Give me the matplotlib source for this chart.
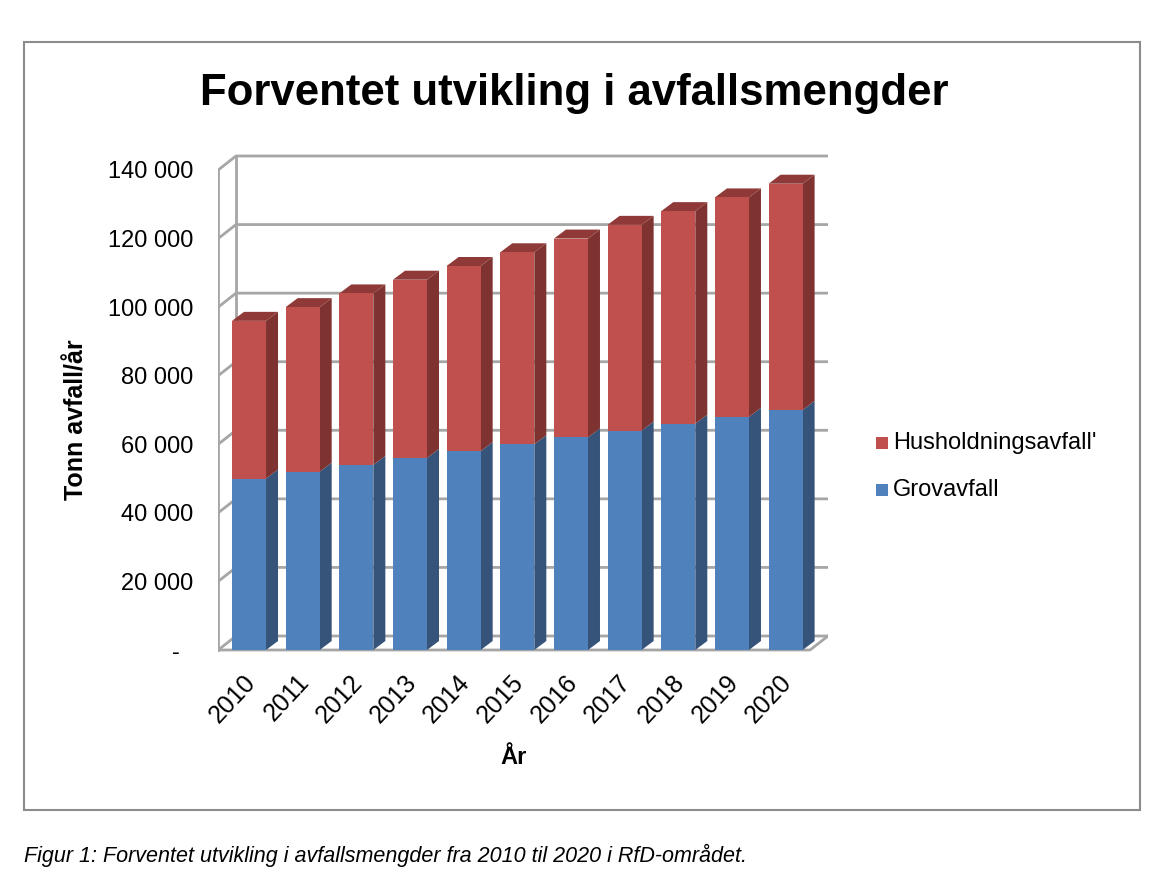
import matplotlib
matplotlib.use("Agg")
import matplotlib.pyplot as plt
from matplotlib.patches import Polygon, Rectangle
import numpy as np

plt.rcParams['font.family'] = ['Liberation Sans', 'DejaVu Sans']

years = ['2010', '2011', '2012', '2013', '2014', '2015', '2016', '2017', '2018', '2019', '2020']
grovavfall = [50000, 52000, 54000, 56000, 58000, 60000, 62000, 64000, 66000, 68000, 70000]
husholdning = [46000, 48000, 50000, 52000, 54000, 56000, 58000, 60000, 62000, 64000, 66000]
yticks = [0, 20000, 40000, 60000, 80000, 100000, 120000, 140000]
ytick_labels = ['-  ', '20 000', '40 000', '60 000', '80 000', '100 000', '120 000', '140 000']

blue = '#4F81BD'
blue_side = '#36537A'
red = '#C0504D'
red_side = '#7F3331'
red_top = '#8F3A38'
grid_c = '#A6A6A6'

fig = plt.figure(figsize=(11.52, 8.76), dpi=100)
W, H = 1152, 876

# outer chart frame
fig.patches.append(Rectangle((24 / W, 1 - 810 / H), (1140 - 24) / W, (810 - 42) / H,
                             transform=fig.transFigure, fill=False, edgecolor='#8C8C8C', lw=1.5))

ax = fig.add_axes([218 / W, 1 - 652 / H, 610 / W, 502 / H])
x0, x1 = -0.578, 10.79
ylo, yhi = -583, 145833
ax.set_xlim(x0, x1)
ax.set_ylim(ylo, yhi)
for s in ax.spines.values():
    s.set_visible(False)

# depth of walls and of bars (data units)
dx, dy = 0.3355, 4083
bdx, bdy = 0.2237, 2625
bw = 0.634

# walls and gridlines
ax.plot([x0 + 0.003, x0 + 0.003], [0, 140000], color=grid_c, lw=2, zorder=1)
ax.plot([x0 + dx, x0 + dx], [dy, 140000 + dy], color=grid_c, lw=2, zorder=1)
for v in yticks:
    ax.plot([x0 + 0.003, x0 + dx, x1], [v, v + dy, v + dy], color=grid_c, lw=2, zorder=1)
ax.plot([x0 + 0.003, x1 - dx, x1], [0, 0, dy], color=grid_c, lw=2, zorder=1)

# 3D-looking stacked bars
idx = np.arange(len(years))
for i in idx:
    xl = i - bw / 2
    xr = i + bw / 2
    g = grovavfall[i]
    t = grovavfall[i] + husholdning[i]
    for lo, hi, cs in [(0, g, blue_side), (g, t, red_side)]:
        ax.add_patch(Polygon([(xr, lo), (xr + bdx, lo + bdy), (xr + bdx, hi + bdy), (xr, hi)],
                             closed=True, facecolor=cs, edgecolor='none', zorder=3))
    ax.bar(i, g, width=bw, color=blue, zorder=4)
    ax.bar(i, husholdning[i], bottom=g, width=bw, color=red, zorder=4)
    ax.add_patch(Polygon([(xl, t), (xl + bdx, t + bdy), (xr + bdx, t + bdy), (xr, t)],
                         closed=True, facecolor=red_top, edgecolor='none', zorder=3))

ax.set_yticks(yticks)
ax.set_yticklabels(ytick_labels, fontsize=17)
ax.set_xticks(idx - 0.12)
ax.set_xticklabels(years, fontsize=18, rotation=47, ha='right', rotation_mode='anchor')
ax.tick_params(length=0)
ax.tick_params(axis='y', pad=18)
ax.tick_params(axis='x', pad=13)

fig.text(574 / W, 1 - 93 / H, 'Forventet utvikling i avfallsmengder', fontsize=31.5,
         fontweight='bold', ha='center', va='center')
fig.text(76 / W, 1 - 420 / H, 'Tonn avfall/år', fontsize=18, fontweight='bold',
         rotation=90, ha='center', va='center')
fig.text(514 / W, 1 - 757 / H, 'År', fontsize=17, fontweight='bold', ha='center', va='center')

# legend
for label, col, yy in [("Husholdningsavfall'", red, 443), ('Grovavfall', blue, 490)]:
    fig.patches.append(Rectangle((876 / W, 1 - (yy + 6) / H), 12 / W, 12 / H,
                                 transform=fig.transFigure, facecolor=col, edgecolor='none'))
    fig.text(893 / W, 1 - yy / H, label, fontsize=17, ha='left', va='center')

fig.text(24 / W, 1 - 855 / H,
         'Figur 1: Forventet utvikling i avfallsmengder fra 2010 til 2020 i RfD-området.',
         fontsize=15.5, style='italic', ha='left', va='center')

fig.savefig('out.png', dpi=100)
